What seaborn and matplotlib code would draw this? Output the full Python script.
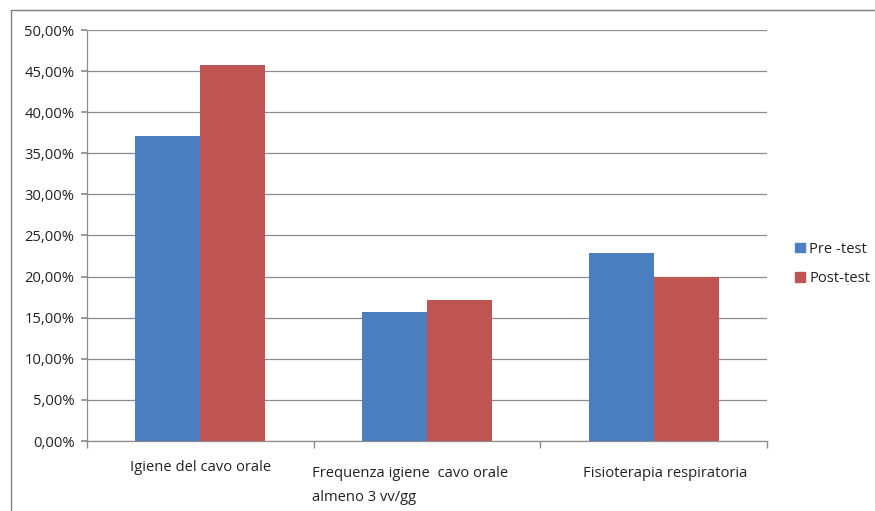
import pandas as pd
import numpy as np
import seaborn as sns
import matplotlib.pyplot as plt
import matplotlib.transforms as mtransforms
from matplotlib.ticker import FuncFormatter, FixedLocator
from matplotlib.lines import Line2D

# dati
categorie = ["Igiene del cavo orale",
             "Frequenza igiene  cavo orale\nalmeno 3 vv/gg",
             "Fisioterapia respiratoria"]
pre_test = [37.14, 15.71, 22.86]
post_test = [45.71, 17.14, 20.00]
serie = ["Pre -test", "Post-test"]
colori = ["#4A7EBF", "#BE5552"]

df = pd.DataFrame({
    "Categoria": categorie * 2,
    "Valore": pre_test + post_test,
    "Serie": [serie[0]] * 3 + [serie[1]] * 3,
})

sns.set_theme(style="white")
plt.rcParams["font.family"] = ["Open Sans", "DejaVu Sans"]
fs = 10.6

fig = plt.figure(figsize=(8.75, 5.11), dpi=100)
ax = fig.add_axes([87 / 875, 1 - 441 / 511, 680 / 875, 411 / 511])

sns.barplot(data=df, x="Categoria", y="Valore", hue="Serie",
            palette=colori, width=0.574, saturation=1, ax=ax,
            edgecolor="none", zorder=3)

ax.set_ylim(0, 50)
ax.set_xlim(-0.5, 2.5)
ax.set_yticks(np.arange(0, 50.1, 5))
ax.yaxis.set_major_formatter(FuncFormatter(lambda v, p: f"{v:.2f}%".replace(".", ",")))
ax.yaxis.grid(True, color="#8C8C8C", linewidth=0.9, zorder=0)
ax.set_axisbelow(True)

for s in ["top", "right"]:
    ax.spines[s].set_visible(False)
for s in ["left", "bottom"]:
    ax.spines[s].set_color("#8C8C8C")
    ax.spines[s].set_linewidth(0.9)

ax.tick_params(axis="y", direction="out", length=4, color="#8C8C8C",
               labelsize=fs, pad=5, left=True, labelcolor="#222222")
ax.set_xticks([0, 1, 2])
ax.set_xticklabels([])
ax.tick_params(axis="x", which="major", length=0)
ax.xaxis.set_minor_locator(FixedLocator([-0.5, 0.5, 1.5, 2.5]))
ax.tick_params(axis="x", which="minor", direction="out", length=5,
               color="#8C8C8C", bottom=True)

# etichette categorie (posizionate come in Excel)
spost_x = [0, -17, 12]
spost_y = [-19, -25, -25]
trans_base = mtransforms.blended_transform_factory(ax.transData, ax.transAxes)
for i, lab in enumerate(categorie):
    tr = trans_base + mtransforms.ScaledTranslation(spost_x[i] / 100, spost_y[i] / 100,
                                                    fig.dpi_scale_trans)
    ax.text(i, 0, lab, transform=tr, ha="center", va="top", multialignment="left",
            fontsize=fs, linespacing=1.8, color="#222222")

ax.set_xlabel("")
ax.set_ylabel("")

ax.legend_.remove()
handles = [plt.Rectangle((0, 0), 1, 1, color=c) for c in colori]
fig.legend(handles, serie, loc="center left",
           bbox_to_anchor=(782 / 875, 1 - 264 / 511), frameon=False,
           handlelength=0.65, handleheight=0.65, handletextpad=0.3,
           labelspacing=1.0, fontsize=fs, labelcolor="#222222")

# cornice esterna
fig.add_artist(Line2D([11 / 875, 11 / 875], [0, 1 - 10 / 511],
                      transform=fig.transFigure, color="#7F7F7F", linewidth=1))
fig.add_artist(Line2D([11 / 875, 1], [1 - 10 / 511, 1 - 10 / 511],
                      transform=fig.transFigure, color="#7F7F7F", linewidth=1))

fig.savefig("out.png", dpi=100, facecolor="white")
